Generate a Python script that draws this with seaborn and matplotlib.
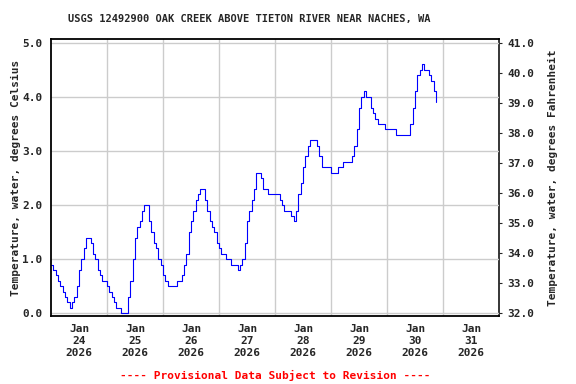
import numpy as np
import pandas as pd
import matplotlib
matplotlib.use("Agg")
import matplotlib.pyplot as plt
import matplotlib.dates as mdates
import seaborn as sns

# Hourly water temperature (deg C), starting 2026-01-24 00:00
temp_c = [
    # Jan 24
    0.9, 0.8, 0.7, 0.6, 0.5, 0.4, 0.3, 0.2, 0.1, 0.2, 0.3, 0.5,
    0.8, 1.0, 1.2, 1.4, 1.4, 1.3, 1.1, 1.0, 0.8, 0.7, 0.6, 0.6,
    # Jan 25
    0.5, 0.4, 0.3, 0.2, 0.1, 0.1, 0.0, 0.0, 0.0, 0.3, 0.6, 1.0,
    1.4, 1.6, 1.7, 1.9, 2.0, 2.0, 1.7, 1.5, 1.3, 1.2, 1.0, 0.9,
    # Jan 26
    0.7, 0.6, 0.5, 0.5, 0.5, 0.5, 0.6, 0.6, 0.7, 0.9, 1.1, 1.5,
    1.7, 1.9, 2.1, 2.2, 2.3, 2.3, 2.1, 1.9, 1.7, 1.6, 1.5, 1.3,
    # Jan 27
    1.2, 1.1, 1.1, 1.0, 1.0, 0.9, 0.9, 0.9, 0.8, 0.9, 1.0, 1.3,
    1.7, 1.9, 2.1, 2.3, 2.6, 2.6, 2.5, 2.3, 2.3, 2.2, 2.2, 2.2,
    # Jan 28
    2.2, 2.2, 2.1, 2.0, 1.9, 1.9, 1.9, 1.8, 1.7, 1.9, 2.2, 2.4,
    2.7, 2.9, 3.1, 3.2, 3.2, 3.2, 3.1, 2.9, 2.7, 2.7, 2.7, 2.7,
    # Jan 29
    2.6, 2.6, 2.6, 2.7, 2.7, 2.8, 2.8, 2.8, 2.8, 2.9, 3.1, 3.4,
    3.8, 4.0, 4.1, 4.0, 4.0, 3.8, 3.7, 3.6, 3.5, 3.5, 3.5, 3.4,
    # Jan 30
    3.4, 3.4, 3.4, 3.4, 3.3, 3.3, 3.3, 3.3, 3.3, 3.3, 3.5, 3.8,
    4.1, 4.4, 4.5, 4.6, 4.5, 4.5, 4.4, 4.3, 4.1, 3.9,
]
start_time = "2026-01-24 00:00"
day_labels = ["Jan\n24\n2026", "Jan\n25\n2026", "Jan\n26\n2026", "Jan\n27\n2026",
              "Jan\n28\n2026", "Jan\n29\n2026", "Jan\n30\n2026", "Jan\n31\n2026"]
celsius_ticks = [0.0, 1.0, 2.0, 3.0, 4.0, 5.0]
fahrenheit_ticks = [32.0, 33.0, 34.0, 35.0, 36.0, 37.0, 38.0, 39.0, 40.0, 41.0]

times = pd.date_range(start_time, periods=len(temp_c), freq="h")
df = pd.DataFrame({"time": times, "temp": temp_c})

sns.set_style("white")
plt.rcParams["font.family"] = ["DejaVu Sans Mono"]
plt.rcParams["font.weight"] = "bold"

fig = plt.figure(figsize=(5.76, 3.84), dpi=100)
ax = fig.add_axes([51/576, 1-316/384, 448/576, 277/384])

sns.lineplot(data=df, x="time", y="temp", ax=ax, color="#0000ff",
             linewidth=0.8, drawstyle="steps-post")

x0 = pd.Timestamp("2026-01-24 00:00")
x1 = pd.Timestamp("2026-02-01 00:00")
ax.set_xlim(x0, x1)
ax.set_ylim(-0.05, 5.07)

# major ticks at noon (labels), minor at midnight (grid)
noon = [x0 + pd.Timedelta(hours=12) + pd.Timedelta(days=i) for i in range(8)]
midn = [x0 + pd.Timedelta(days=i) for i in range(1, 8)]
ax.set_xticks(noon)
ax.set_xticklabels(day_labels, fontsize=8, fontweight="bold",
                   linespacing=1.25)
ax.set_xticks(midn, minor=True)
ax.tick_params(axis="x", which="both", length=0, pad=6)
ax.grid(False)
ax.grid(True, which="minor", axis="x", color="#cccccc", linewidth=1)
ax.set_yticks(celsius_ticks)
ax.set_yticklabels([f"{v:.1f}" for v in celsius_ticks], fontsize=8,
                   fontweight="bold")
ax.tick_params(axis="y", length=0, pad=6)
ax.grid(True, which="major", axis="y", color="#cccccc", linewidth=1)
ax.set_axisbelow(True)

ax.set_xlabel("")
ax.set_ylabel("Temperature, water, degrees Celsius", fontsize=8,
              fontweight="bold", labelpad=1)

for s in ax.spines.values():
    s.set_color("black")
    s.set_linewidth(1.3)
    s.set_visible(True)
ax.spines["right"].set_visible(False)

sec = ax.secondary_yaxis("right", functions=(lambda c: c*1.8+32,
                                             lambda f: (f-32)/1.8))
sec.set_yticks(fahrenheit_ticks)
sec.set_yticklabels([f"{v:.1f}" for v in fahrenheit_ticks], fontsize=8,
                    fontweight="bold")
sec.tick_params(axis="y", length=2, pad=4)
sec.set_ylabel("Temperature, water, degrees Fahrenheit", fontsize=8,
               fontweight="bold", labelpad=10)
sec.spines["right"].set_linewidth(1.3)

fig.text(249/576, 1-19/384, "USGS 12492900 OAK CREEK ABOVE TIETON RIVER NEAR NACHES, WA",
         ha="center", va="center", fontsize=7.5, fontweight="bold")
fig.text(275/576, 1-375/384, "---- Provisional Data Subject to Revision ----",
         ha="center", va="center", fontsize=8, fontweight="bold", color="#ff0000")

fig.savefig("out.png", dpi=100)
